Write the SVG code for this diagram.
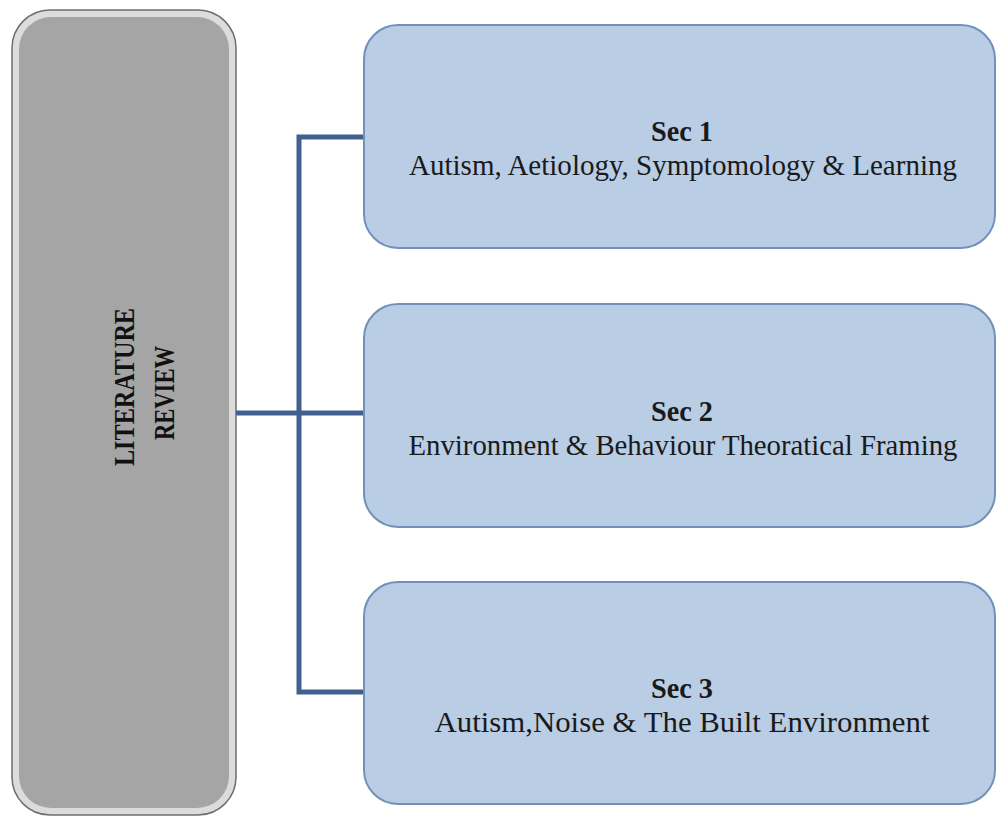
<svg xmlns="http://www.w3.org/2000/svg" width="997" height="818" viewBox="0 0 997 818">
  <style>
    .sec { fill: #b9cde5; stroke: #7391b8; stroke-width: 2; }
    .head { font-family: "Liberation Serif", serif; font-weight: bold; font-size: 30px; fill: #1a1a1a; text-anchor: middle; }
    .body { font-family: "Liberation Serif", serif; font-size: 30px; fill: #1a1a1a; text-anchor: middle; }
    .side { font-family: "Liberation Serif", serif; font-weight: bold; font-size: 30px; fill: #111; text-anchor: middle; }
    .link { fill: none; stroke: #41608f; stroke-width: 5; }
  </style>
  <rect width="997" height="818" fill="#ffffff"/>

  <!-- main column -->
  <g id="literature-review">
    <rect x="12" y="10" width="224" height="805" rx="38" fill="#dcdcdc" stroke="#6e6e6e" stroke-width="1.5"/>
    <rect x="19" y="17" width="210" height="791" rx="32" fill="#a5a5a5"/>
    <text class="side" transform="translate(134,387) rotate(-90)" textLength="158" lengthAdjust="spacingAndGlyphs">LITERATURE</text>
    <text class="side" transform="translate(174,393) rotate(-90)" textLength="94" lengthAdjust="spacingAndGlyphs">REVIEW</text>
  </g>

  <!-- connectors -->
  <g id="connectors">
    <line class="link" x1="236" y1="413" x2="364" y2="413"/>
    <polyline class="link" points="364,137 299,137 299,692 364,692"/>
  </g>

  <g id="sec1">
    <rect class="sec" x="364" y="25" width="631" height="223" rx="34"/>
    <text class="head" x="682" y="141" textLength="62" lengthAdjust="spacingAndGlyphs">Sec 1</text>
    <text class="body" x="683" y="175" textLength="548" lengthAdjust="spacingAndGlyphs">Autism, Aetiology, Symptomology  &amp; Learning</text>
  </g>

  <g id="sec2">
    <rect class="sec" x="364" y="304" width="631" height="223" rx="34"/>
    <text class="head" x="682" y="421" textLength="62" lengthAdjust="spacingAndGlyphs">Sec 2</text>
    <text class="body" x="683" y="455" textLength="549" lengthAdjust="spacingAndGlyphs">Environment &amp; Behaviour Theoratical Framing</text>
  </g>

  <g id="sec3">
    <rect class="sec" x="364" y="582" width="631" height="222" rx="34"/>
    <text class="head" x="682" y="698" textLength="62" lengthAdjust="spacingAndGlyphs">Sec 3</text>
    <text class="body" x="682" y="732" textLength="495" lengthAdjust="spacingAndGlyphs">Autism,Noise &amp; The Built Environment</text>
  </g>
</svg>
